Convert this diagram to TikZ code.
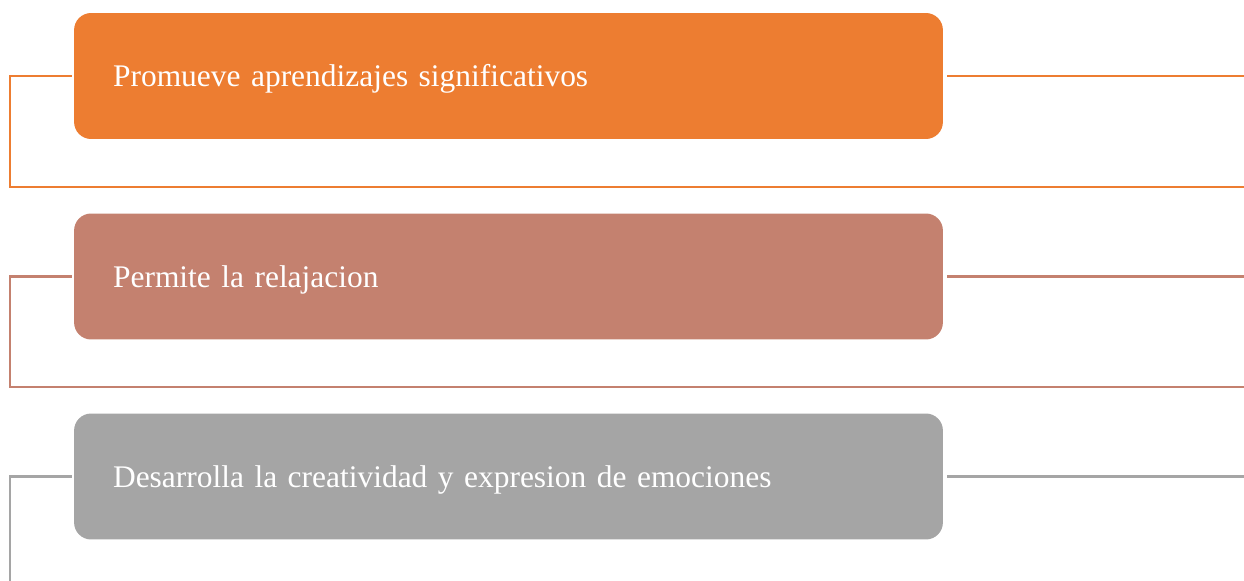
\documentclass[tikz,border=0pt]{standalone}
\usepackage{fontspec}
\setmainfont{Liberation Serif}
\usepackage{tikz}
\tikzset{>=latex}
\definecolor{naranja}{HTML}{ED7D31}
\definecolor{rosado}{HTML}{C4816F}
\definecolor{gris}{HTML}{A5A5A5}
\tikzset{
  caja/.style={rounded corners=0.34cm,minimum width=17.38cm,minimum height=2.52cm,
    text width=15.82cm,align=left,inner xsep=0.78cm,text=white,
    text height=0.52cm,text depth=0.1cm,
    font=\fontsize{17.9}{21}\selectfont},
  enlace/.style={line width=0.05cm}
}
\begin{document}
\begin{tikzpicture}[x=0.02cm,y=-0.02cm]
            \draw[draw=none,use as bounding box] (0,0) rectangle (1244,581);
            % cajas
            \node[caja,fill=naranja] (a) at (508.5,76) {Promueve aprendizajes significativos};
            \node[caja,fill=rosado] (b) at (508.5,276.5) {Permite la relajacion};
            \node[caja,fill=gris] (c) at (508.5,476.5) {Desarrolla la creatividad y expresion de emociones};
            % extremos
            \coordinate (a1) at (10,187);
            \coordinate (a2) at (1244,187);
            \coordinate (a3) at (1244,76);
            \coordinate (b1) at (10,387);
            \coordinate (b2) at (1244,387);
            \coordinate (b3) at (1244,276.5);
            \coordinate (c1) at (10,581);
            \coordinate (c3) at (1244,476.5);
            % enlaces
            \draw[enlace,naranja,shorten <=0.04cm] (a.west) -| (a1) -- (a2);
            \draw[enlace,naranja,shorten <=0.08cm] (a.east) -- (a3);
            \draw[enlace,rosado,shorten <=0.04cm] (b.west) -| (b1) -- (b2);
            \draw[enlace,rosado,shorten <=0.08cm] (b.east) -- (b3);
            \draw[enlace,gris,shorten <=0.04cm] (c.west) -| (c1);
            \draw[enlace,gris,shorten <=0.08cm] (c.east) -- (c3);
        \end{tikzpicture}
\end{document}
